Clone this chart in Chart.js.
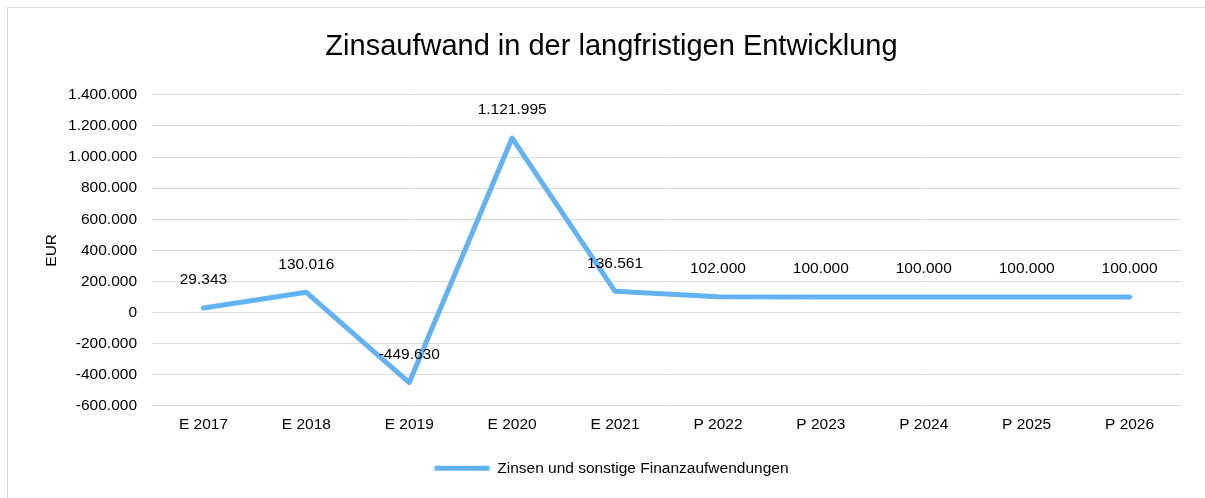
<!DOCTYPE html>
<html>
<head>
<meta charset="utf-8">
<script src="https://cdn.jsdelivr.net/npm/chart.js@4/dist/chart.umd.min.js"></script>
<style>
  html, body { margin: 0; padding: 0; background: #fff; }
  #frame { position: absolute; left: 7px; top: 7px; width: 1210px; height: 510px; border: 1px solid #d9d9d9; box-sizing: border-box; }
  #wrap { position: absolute; left: 0; top: 0; width: 1205px; height: 498px; }
</style>
</head>
<body>
<div id="frame"></div>
<div id="wrap"><canvas id="chart"></canvas></div>
<script>
// Daten
const categories = ['E 2017', 'E 2018', 'E 2019', 'E 2020', 'E 2021', 'P 2022', 'P 2023', 'P 2024', 'P 2025', 'P 2026'];
const zinsen = [29343, 130016, -449630, 1121995, 136561, 102000, 100000, 100000, 100000, 100000];
const seriesName = 'Zinsen und sonstige Finanzaufwendungen';
const yMin = -600000;
const yMax = 1400000;
const yStep = 200000;

const lineColor = '#63B3F4';
const fontFamily = '"Liberation Sans", Arial, sans-serif';
const textSize = 15.5;

function formatDE(v) {
    const neg = v < 0;
    const s = Math.round(Math.abs(v)).toString().replace(/\B(?=(\d{3})+(?!\d))/g, '.');
    return (neg ? '-' : '') + s;
}

// Datenbeschriftungen ueber den Punkten
const valueLabels = {
    id: 'valueLabels',
    afterDatasetsDraw(chart) {
        const ctx = chart.ctx;
        const meta = chart.getDatasetMeta(0);
        ctx.save();
        ctx.font = textSize + 'px ' + fontFamily;
        ctx.fillStyle = '#000';
        ctx.textAlign = 'center';
        ctx.textBaseline = 'middle';
        meta.data.forEach((pt, i) => {
            ctx.fillText(formatDE(zinsen[i]), pt.x, pt.y - 28);
        });
        ctx.restore();
    }
};

Chart.defaults.font.family = fontFamily;
Chart.defaults.color = '#000';

new Chart(document.getElementById('chart').getContext('2d'), {
    type: 'line',
    data: {
        labels: categories,
        datasets: [{
            label: seriesName,
            data: zinsen,
            borderColor: lineColor,
            backgroundColor: lineColor,
            borderWidth: 5,
            borderCapStyle: 'round',
            borderJoinStyle: 'round',
            pointRadius: 0,
            pointHoverRadius: 0,
            pointStyle: 'line',
            tension: 0,
            fill: false
        }]
    },
    options: {
        responsive: true,
        maintainAspectRatio: false,
        animation: false,
        layout: { padding: { left: 42, right: 24, top: 0, bottom: 12 } },
        scales: {
            x: {
                offset: true,
                grid: { display: false, drawTicks: false },
                border: { display: false },
                ticks: { font: { size: textSize }, color: '#000', padding: 10, maxRotation: 0 }
            },
            y: {
                min: yMin,
                max: yMax,
                grid: { color: '#d9d9d9', lineWidth: 1, drawTicks: false },
                border: { display: false },
                ticks: {
                    stepSize: yStep,
                    font: { size: textSize },
                    color: '#000',
                    padding: 15,
                    callback: v => formatDE(v)
                },
                title: { display: true, text: 'EUR', font: { size: textSize }, color: '#000', padding: { top: 0, bottom: 4 } },
                afterFit(scale) { scale.width = 110; }
            }
        },
        plugins: {
            title: {
                display: true,
                text: 'Zinsaufwand in der langfristigen Entwicklung',
                font: { size: 29, weight: 'normal' },
                color: '#000',
                padding: { top: 30, bottom: 30 }
            },
            legend: {
                position: 'bottom',
                labels: {
                    usePointStyle: true,
                    pointStyleWidth: 55,
                    boxHeight: textSize,
                    font: { size: textSize },
                    color: '#000',
                    padding: 16
                }
            },
            tooltip: { enabled: false }
        }
    },
    plugins: [valueLabels]
});
</script>
</body>
</html>
